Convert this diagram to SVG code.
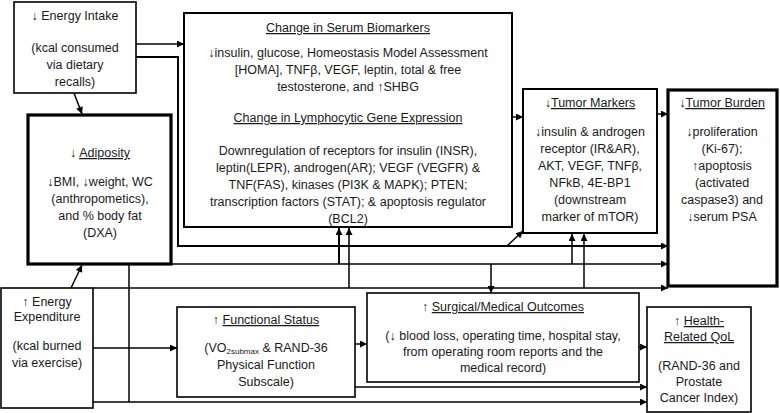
<svg xmlns="http://www.w3.org/2000/svg" width="780" height="413" viewBox="0 0 780 413">
<defs>
<marker id="ah" viewBox="0 0 10 10" refX="10" refY="5" markerWidth="8" markerHeight="7" markerUnits="userSpaceOnUse" orient="auto">
<path d="M0,0 L10,5 L0,10 z" fill="#000"/>
</marker>
<style>
.box{fill:#fff;stroke:#000;stroke-width:1.6}
.med{stroke-width:2}
.thick{stroke-width:3.2}
text{font-family:"Liberation Sans",Arial,sans-serif;font-size:12.5px;fill:#1a1a1a;text-anchor:middle}
.u{text-decoration:underline}
.c{fill:none;stroke:#000;stroke-width:1.5}
.a{marker-end:url(#ah)}
</style>
</defs>
<rect width="780" height="413" fill="#fff"/>
<g id="connectors">
<path class="c a" d="M136,44 H184"/>
<path class="c a" d="M74,93 L82,114"/>
<path class="c a" d="M136,57 H178 V246 H668" style="stroke-width:2"/>
<path class="c a" d="M507,246 L523,231"/>
<path class="c a" d="M171,264 H668"/>
<path class="c a" d="M339,264 V228" style="stroke-width:2"/>
<path class="c a" d="M491,264 V293"/>
<path class="c a" d="M572,264 V234"/>
<path class="c" d="M129,264 V402"/>
<path class="c a" d="M93,288 H668"/>
<path class="c a" d="M349,288 V228"/>
<path class="c a" d="M584,288 V234"/>
<path class="c a" d="M93,348 H177"/>
<path class="c a" d="M71,288 L82,265"/>
<path class="c a" d="M93,402 H647"/>
<path class="c a" d="M355,344 H367"/>
<path class="c a" d="M639,347 H647"/>
<path class="c a" d="M355,387 H647"/>
<path class="c a" d="M512,117 H523"/>
<path class="c a" d="M657,114 H668"/>
</g>
<g id="energy-intake">
<rect class="box" x="14" y="2" width="122" height="91"/>
<text x="75" y="20">↓ Energy Intake</text>
<text x="75" y="52">(kcal consumed</text>
<text x="75" y="69">via dietary</text>
<text x="75" y="86">recalls)</text>
</g>
<g id="adiposity">
<rect class="box thick" x="28" y="115" width="143" height="149"/>
<text x="100" y="157">↓ <tspan class="u">Adiposity</tspan></text>
<text x="100" y="186">↓BMI, ↓weight, WC</text>
<text x="100" y="203">(anthropometics),</text>
<text x="100" y="220">and % body fat</text>
<text x="100" y="237">(DXA)</text>
</g>
<g id="serum-biomarkers">
<rect class="box med" x="184" y="13" width="328" height="214"/>
<text x="348" y="32" class="u">Change in Serum Biomarkers</text>
<text x="348" y="57">↓insulin, glucose, Homeostasis Model Assessment</text>
<text x="348" y="74">[HOMA], TNFβ, VEGF, leptin, total &amp; free</text>
<text x="348" y="91">testosterone,  and ↑SHBG</text>
<text x="348" y="122" class="u">Change in Lymphocytic Gene Expression</text>
<text x="348" y="155">Downregulation of receptors for insulin (INSR),</text>
<text x="348" y="172">leptin(LEPR), androgen(AR); VEGF (VEGFR) &amp;</text>
<text x="348" y="189">TNF(FAS), kinases (PI3K &amp; MAPK); PTEN;</text>
<text x="348" y="206">transcription factors (STAT); &amp; apoptosis regulator</text>
<text x="348" y="223">(BCL2)</text>
</g>
<g id="tumor-markers">
<rect class="box med" x="523" y="89" width="134" height="144"/>
<text x="590" y="107">↓<tspan class="u">Tumor Markers</tspan></text>
<text x="590" y="136">↓insulin &amp; androgen</text>
<text x="590" y="153">receptor (IR&amp;AR),</text>
<text x="590" y="170">AKT, VEGF, TNFβ,</text>
<text x="590" y="187">NFkB, 4E-BP1</text>
<text x="590" y="204">(downstream</text>
<text x="590" y="221">marker of mTOR)</text>
</g>
<g id="tumor-burden">
<rect class="box thick" x="668" y="90" width="109" height="196"/>
<text x="722" y="107">↓<tspan class="u">Tumor Burden</tspan></text>
<text x="722" y="136">↓proliferation</text>
<text x="722" y="153">(Ki-67);</text>
<text x="722" y="170">↑apoptosis</text>
<text x="722" y="187">(activated</text>
<text x="722" y="204">caspase3) and</text>
<text x="722" y="221">↓serum PSA</text>
</g>
<g id="energy-expenditure">
<rect class="box" x="1" y="288" width="92" height="120"/>
<text x="47" y="306">↑ Energy</text>
<text x="47" y="321">Expenditure</text>
<text x="47" y="350">(kcal burned</text>
<text x="47" y="367">via exercise)</text>
</g>
<g id="functional-status">
<rect class="box" x="177" y="307" width="178" height="90"/>
<text x="266" y="324">↑ <tspan class="u">Functional Status</tspan></text>
<text x="266" y="352">(VO<tspan font-size="8" dy="2">2submax</tspan><tspan dy="-2"> &amp; RAND-36</tspan></text>
<text x="266" y="369">Physical Function</text>
<text x="266" y="386">Subscale)</text>
</g>
<g id="surgical-outcomes">
<rect class="box" x="367" y="293" width="272" height="89"/>
<text x="503" y="311">↑ <tspan class="u">Surgical/Medical Outcomes</tspan></text>
<text x="503" y="340">(↓ blood loss, operating time, hospital stay,</text>
<text x="503" y="356">from operating room reports and  the</text>
<text x="503" y="372">medical record)</text>
</g>
<g id="health-qol">
<rect class="box" x="647" y="307" width="104" height="105"/>
<text x="699" y="325">↑ <tspan class="u">Health-</tspan></text>
<text x="699" y="341" class="u">Related QoL</text>
<text x="699" y="370">(RAND-36 and</text>
<text x="699" y="386">Prostate</text>
<text x="699" y="402">Cancer Index)</text>
</g>
</svg>
